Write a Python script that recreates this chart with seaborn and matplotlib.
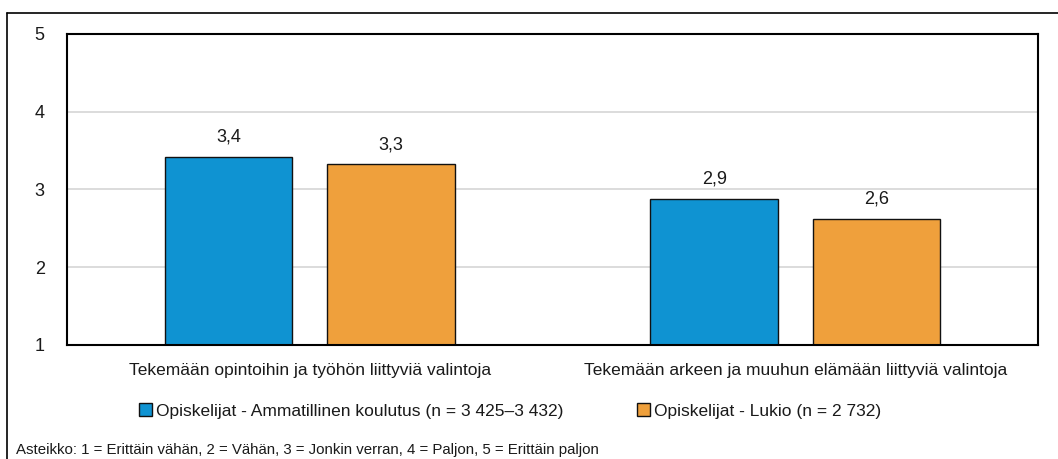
import matplotlib
matplotlib.use("Agg")
import matplotlib.pyplot as plt
from matplotlib.lines import Line2D
import pandas as pd
import seaborn as sns

# Survey means on a 1–5 scale
categories = [
    "Tekemään opintoihin ja työhön liittyviä valintoja",
    "Tekemään arkeen ja muuhun elämään liittyviä valintoja",
]
series_names = [
    "Opiskelijat - Ammatillinen koulutus (n = 3 425–3 432)",
    "Opiskelijat - Lukio (n = 2 732)",
]
ammatillinen = [3.42, 2.88]
lukio = [3.32, 2.62]
y_ticks = [1, 2, 3, 4, 5]
footnote = "Asteikko: 1 = Erittäin vähän, 2 = Vähän, 3 = Jonkin verran, 4 = Paljon, 5 = Erittäin paljon"

colors = ["#0F93D2", "#EFA03C"]

df = pd.DataFrame({
    "kategoria": categories * 2,
    "ryhma": [series_names[0]] * 2 + [series_names[1]] * 2,
    "keskiarvo": ammatillinen + lukio,
})

sns.set_theme(style="white")
plt.rcParams["font.family"] = ["Liberation Sans", "DejaVu Sans"]
plt.rcParams["text.color"] = "#1a1a1a"

W, H = 1058, 459
fig = plt.figure(figsize=(W / 100, H / 100), dpi=100)
ax = fig.add_axes([67 / W, 1 - 344.7 / H, (1038 - 67) / W, (344.7 - 34) / H])

sns.barplot(
    data=df, x="kategoria", y="keskiarvo", hue="ryhma",
    hue_order=series_names, order=categories,
    palette=colors, width=0.668, gap=0.214,
    edgecolor="#111111", linewidth=1.0, saturation=1, ax=ax,
)

ax.set_ylim(1, 5)
ax.set_yticks(y_ticks)
ax.set_yticklabels([str(t) for t in y_ticks])
ax.yaxis.grid(True, color="#d9d9d9", linewidth=1.3)
ax.set_axisbelow(True)
ax.set_xlabel("")
ax.set_ylabel("")
ax.tick_params(axis="y", length=0, pad=16, labelsize=13, labelcolor="#1a1a1a")
ax.tick_params(axis="x", length=0, pad=13, labelsize=12.5, labelcolor="#1a1a1a")
for sp in ax.spines.values():
    sp.set_visible(True)
    sp.set_color("black")
    sp.set_linewidth(1.5)

for cont in ax.containers:
    vals = cont.datavalues
    ax.bar_label(cont, labels=[f"{v:.1f}".replace(".", ",") for v in vals],
                 padding=8, fontsize=13, color="#1a1a1a")

handles, labels = ax.get_legend_handles_labels()
ax.legend(
    handles, labels, loc="center", bbox_to_anchor=(510 / W, 1 - 411 / H),
    bbox_transform=fig.transFigure, ncol=2, frameon=False,
    handlelength=0.75, handleheight=0.75, handletextpad=0.25,
    columnspacing=4.2, fontsize=12.5,
)

fig.text(16 / W, 1 - 450 / H, footnote, fontsize=10.8, va="center", ha="left",
         color="#1a1a1a")

# Outer frame (top and left edges)
x0, y0 = 7.3 / W, 1 - 12.7 / H
fig.add_artist(Line2D([x0, 1.01], [y0, y0], color="black", lw=1.2,
                      transform=fig.transFigure))
fig.add_artist(Line2D([x0, x0], [-0.01, y0], color="black", lw=1.2,
                      transform=fig.transFigure))

fig.savefig("out.png", dpi=100)
